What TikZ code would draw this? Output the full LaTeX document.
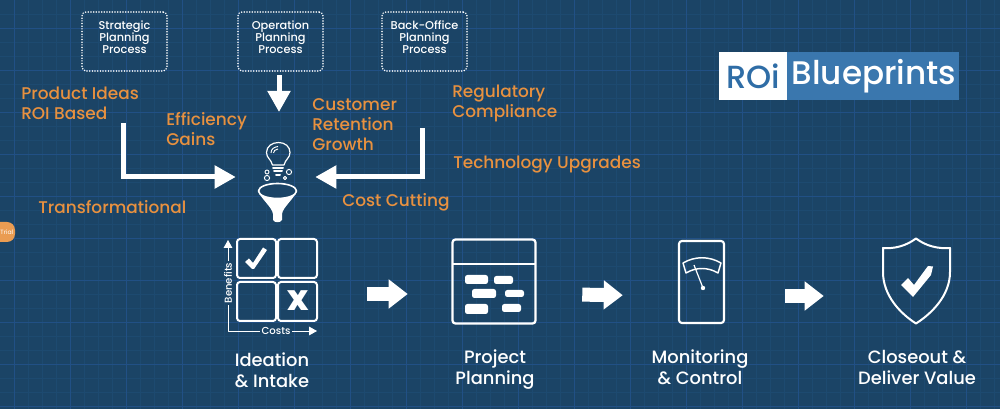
\documentclass[tikz,border=0pt]{standalone}
\usepackage{fontspec}
\setmainfont{Poppins}
\newfontfamily\medfont{Poppins Medium}
\newfontfamily\heavyfont{Poppins Black}
\usetikzlibrary{arrows.meta}
\definecolor{navy}{HTML}{1B4466}
\definecolor{gridminor}{HTML}{1D4A70}
\definecolor{gridmajor}{HTML}{215085}
\definecolor{ember}{HTML}{E8913F}
\definecolor{logoblue}{HTML}{3A77AE}
\definecolor{logoink}{HTML}{2F6DA6}

\begin{document}
\begin{tikzpicture}[x=0.75pt, y=-0.75pt, line join=round,
  box/.style={draw=white, dotted, line width=1.3pt, rounded corners=3pt, line cap=round, dash pattern=on 0pt off 2pt, minimum width=63.75pt, minimum height=44.25pt, inner sep=0pt, text=white, align=center, font=\fontsize{8.5}{9}\medfont},
  lab/.style={anchor=west, inner sep=0pt, text=ember, align=left, font=\fontsize{12.7}{15}\medfont},
  steplab/.style={inner sep=0pt, text=white, align=center, font=\fontsize{13.4}{15.75}\medfont},
  icon/.style={inner sep=0pt, minimum height=60pt},
  feed/.style={draw=white, line width=3.75pt, line join=miter, -{Triangle[length=15.75pt,width=16.5pt]}},
  flow/.style={draw=white, line width=10.5pt, -{Triangle[length=14.25pt,width=21pt]}},
  ink/.style={draw=white, line width=1.5pt, rounded corners=2.2pt},
  axislab/.style={inner sep=1pt, text=white, font=\fontsize{7.6}{8}\medfont}]
\clip (0,0) rectangle (1000,409);
\fill[navy] (0,0) rectangle (1000,409);
% background grid
\foreach \gx in {14,28,...,1000} \draw[gridminor, line width=0.5pt] (\gx,0) -- (\gx,409);
\foreach \gy in {14,28,...,409} \draw[gridminor, line width=0.5pt] (0,\gy) -- (1000,\gy);
\foreach \gx in {14,70,...,1000} \draw[gridmajor, line width=0.5pt] (\gx,0) -- (\gx,409);
\foreach \gy in {28,70,...,409} \draw[gridmajor, line width=0.5pt] (0,\gy) -- (1000,\gy);

% trial tab on the left edge
\fill[ember!90!white, rounded corners=6pt] (-20,222) rectangle (15,242);
\node[text=white, font=\fontsize{4.6}{5}\selectfont, inner sep=0pt, anchor=east] (trial) at (13.5,232) {Trial};

% planning processes
\node[box] (strategic) at (124.5,41.5) {Strategic\\Planning\\Process\\[-3pt]\mbox{}};
\node[box] (operation) at (280.5,41.5) {Operation\\Planning\\Process\\[-3pt]\mbox{}};
\node[box] (backoffice) at (424.5,41.5) {Back-Office\\Planning\\Process\\[-3pt]\mbox{}};

% orange labels
\node[lab] (ideas) at (21,103) {Product Ideas\\ROI Based};
\node[lab] (efficiency) at (166,129) {Efficiency\\Gains};
\node[lab] (retention) at (312,125) {Customer\\Retention\\Growth};
\node[lab] (regulatory) at (452,103) {Regulatory\\Compliance};
\node[lab] (upgrades) at (453,165) {Technology Upgrades};
\node[lab] (transform) at (38,207.5) {Transformational};
\node[lab] (costcut) at (342,202) {Cost Cutting};

% bulb over funnel
\node[inner sep=0pt, minimum width=59.25pt, minimum height=60pt] (funnel) at (275.5,177) {};
\draw[white, line width=0.9pt] (272.5,165) .. controls (271,159) and (266.5,158) .. (266.5,152.5) .. controls (266.5,146.5) and (272,142.5) .. (278.5,142.5) .. controls (285,142.5) and (290,146.5) .. (290,152.5) .. controls (290,158) and (285.5,159) .. (284,165) -- cycle;
\draw[white, line width=0.7pt] (271,153) .. controls (271,149) and (274,147) .. (278,146.5);
\draw[white, line width=0.7pt] (273.5,153) .. controls (273.5,151) and (275,149.5) .. (278,149);
\draw[white, line width=1.5pt, line cap=round] (273,168) -- (283,168);
\draw[white, line width=1.5pt, line cap=round] (274,171.5) -- (282,171.5);
\draw[white, line width=1.5pt, line cap=round] (276,175) -- (280,175);
\foreach \bx/\by/\br in {267/172/2, 289/172/2.6, 267/178/2.6, 285/178/1.6}
  \draw[white, line width=0.7pt] (\bx,\by) circle[radius=\br];
\fill[white] (258,191) .. controls (262,200) and (272,207) .. (273,214) -- (273,220) .. controls (274,223) and (281,223) .. (282,220) -- (282,214) .. controls (283,207) and (293,200) .. (297,191) -- cycle;
\draw[white, fill=navy, line width=1.2pt] (277.5,191) ellipse[x radius=19, y radius=7.5];

% arrows into the funnel
\coordinate (ideasfoot) at (123,123);
\coordinate (regfoot) at (422,128);
\coordinate (downtip) at (279,112);
\draw[feed] (ideasfoot) |- (funnel.west);
\draw[feed] (regfoot) |- (funnel.east);
\draw[feed] (operation.south -| downtip) ++(0,3.5) -- (downtip);

% matrix icon
\node[icon, minimum width=72pt] (intake) at (272,294) {};
\foreach \cx/\cy in {237/239, 278/239, 237/282, 278/282}
  \draw[ink] (\cx,\cy) rectangle ++(39,39);
\fill[white] (245,262) -- (249,258.5) -- (253,263) -- (263,247.5) -- (267,250) -- (254,269) -- (252,269) -- cycle;
\node[inner sep=0pt, text=white, font=\fontsize{21}{21}\heavyfont] (xmark) at (298,300.5) {X};
\node[axislab, rotate=90] (benefits) at (228,283) {Benefits};
\node[axislab] (costs) at (276,331) {Costs};
\coordinate (axiscorner) at (228,331);
\coordinate (axistop) at (228,240);
\coordinate (axisright) at (317,331);
\draw[white, line width=0.7pt] (benefits.west) -- (axiscorner) -- (costs.west);
\draw[white, line width=0.7pt, -{Triangle[length=6pt,width=6.5pt]}] (benefits.east) -- (axistop);
\draw[white, line width=0.7pt, -{Triangle[length=6pt,width=6.5pt]}] (costs.east) -- (axisright);

% plan icon
\node[icon, minimum width=63pt] (planning) at (494,294) {};
\draw[ink, line width=1.7pt] (452.5,239.5) rectangle (535.5,323.5);
\draw[white, line width=1.7pt] (452.5,264) -- (535.5,264);
\foreach \pa/\pb/\pc/\pd in {465/275/488/284, 494/276/513/284, 472/289/496/298, 505/290/524/297, 465/304/488/314, 502/304/521/312}
  \fill[white, rounded corners=1.8pt] (\pa,\pb) rectangle (\pc,\pd);

% gauge icon
\node[icon, minimum width=34.5pt] (monitor) at (702,296) {};
\draw[ink, line width=1.6pt] (679,241) rectangle (724,323);
\draw[white, line width=1.1pt] (683,263) .. controls (695,256) and (709,256) .. (721,263) -- (718,273) .. controls (708,267) and (696,267) .. (686,273) -- cycle;
\draw[white, line width=0.9pt] (694,265) -- (703,288);
\fill[white] (703,288) circle[radius=2.2];

% shield icon
\node[icon, minimum width=51pt] (closeout) at (916,296) {};
\draw[white, line width=1.5pt, line join=round] (916,238.5) .. controls (906,246) and (894,249) .. (883,248) -- (883,272) .. controls (883,296) and (901,314) .. (916,323.5) .. controls (931,314) and (950,296) .. (950,272) -- (950,248) .. controls (938,249) and (926,246) .. (916,238.5) -- cycle;
\fill[white] (901,285) -- (908,278) -- (914,285) -- (928,266) -- (933,266.5) -- (931,275) -- (913,297) -- cycle;

% flow between the steps
\draw[flow, shorten <=35.25pt, shorten >=33pt] (intake.east) -- (planning.west);
\draw[flow, shorten <=34.5pt, shorten >=42pt] (planning.east) -- (monitor.west);
\draw[flow, shorten <=45pt, shorten >=43.5pt] (monitor.east) -- (closeout.west);

% step captions
\node[steplab] (intakelab) at (272,370) {Ideation\\\& Intake};
\node[steplab] (planninglab) at (495,369.5) {Project\\Planning};
\node[steplab] (monitorlab) at (700,367) {Monitoring\\\& Control};
\node[steplab] (closeoutlab) at (917,367) {Closeout \&\\Deliver Value};

% logo
\node[fill=logoblue, minimum width=129pt, minimum height=36pt, inner sep=0pt, anchor=north west] (logoright) at (787,52) {};
\node[fill=white, minimum width=51pt, minimum height=36pt, inner sep=0pt, anchor=north west, text=logoink, font=\fontsize{24}{24}\medfont] (logoleft) at (719,52) {ROi};
\node[inner sep=0pt, text=white, font=\fontsize{24.5}{24}\medfont] (logotext) at (874,76) {Blueprints};
\end{tikzpicture}
\end{document}
